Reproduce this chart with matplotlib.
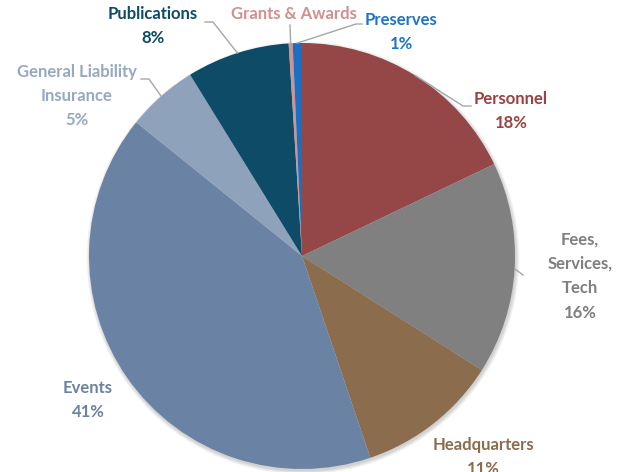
"""
Budget split pie chart with outside labels and leader lines.
"""
import numpy as np
import matplotlib
matplotlib.use("Agg")
import matplotlib.pyplot as plt
from matplotlib.patches import Circle


CATEGORIES = [
    "Personnel", "Fees,\nServices,\nTech", "Headquarters", "Events",
    "General Liability\nInsurance", "Publications", "Grants & Awards", "Preserves",
]
SHARES = [17.9, 16.1, 10.8, 41.0, 5.4, 7.8, 0.3, 0.7]
SHOW_PCT = [True, True, True, True, True, True, False, True]
COLORS = [
    "#954646", "#808080", "#8b6c4d", "#6a83a4",
    "#8fa2bb", "#0d4b67", "#d09393", "#1b6fc2",
]
TEXT_COLORS = [
    "#9a4141", "#7f7f7f", "#8b6c4d", "#6a83a4",
    "#97a9c1", "#0d4b67", "#d38e8e", "#1c74c8",
]

W, H = 627, 472
CENTER = (302, H - 256)
RADIUS = 213
# label centre (pixel coords, top origin) and leader elbow (None = no line)
LABEL_POS = [(511, 111), (580, 276), (483, 457), (88, 400),
             (77, 96), (153, 26), (294, 14), (401, 32)]
ELBOWS = [[(471, 106), (463, 106)], [(523, 275)], None, None,
          [(141, 79), (149, 79)], [(205, 22), (213, 22)],
          [(290, 25)], [(362, 24), (356, 24)]]
LEADER_GRAY = "#a6a6a6"


if __name__ == "__main__":
    fig = plt.figure(figsize=(W / 100, H / 100), dpi=100)
    ax = fig.add_axes([0, 0, 1, 1])

    # soft shadow round the pie
    for k in range(6):
        ax.add_patch(Circle((CENTER[0] + 1, CENTER[1] - 2), RADIUS + 0.7 * k,
                            color="black", alpha=0.03, lw=0, zorder=0))

    wedges, _ = ax.pie(
        SHARES, colors=COLORS, startangle=90, counterclock=False,
        center=CENTER, radius=RADIUS, frame=True,
        wedgeprops=dict(linewidth=0),
    )
    ax.set_xlim(0, W)
    ax.set_ylim(0, H)
    ax.set_aspect("equal")
    ax.axis("off")

    for wedge, name, share, show, tcol, pos, elbow in zip(
        wedges, CATEGORIES, SHARES, SHOW_PCT, TEXT_COLORS, LABEL_POS, ELBOWS
    ):
        text = f"{name}\n{share:.0f}%" if show else name
        ax.text(pos[0], H - pos[1], text, ha="center", va="center",
                color=tcol, fontsize=12, fontweight="bold", family="Lato",
                linespacing=1.65)
        if elbow is None:
            continue
        mid = np.deg2rad((wedge.theta1 + wedge.theta2) / 2)
        edge = (CENTER[0] + RADIUS * np.cos(mid), CENTER[1] + RADIUS * np.sin(mid))
        xs = [p[0] for p in elbow] + [edge[0]]
        ys = [H - p[1] for p in elbow] + [edge[1]]
        ax.plot(xs, ys, color=LEADER_GRAY, lw=1, zorder=1)

    fig.savefig("out.png", dpi=100)
